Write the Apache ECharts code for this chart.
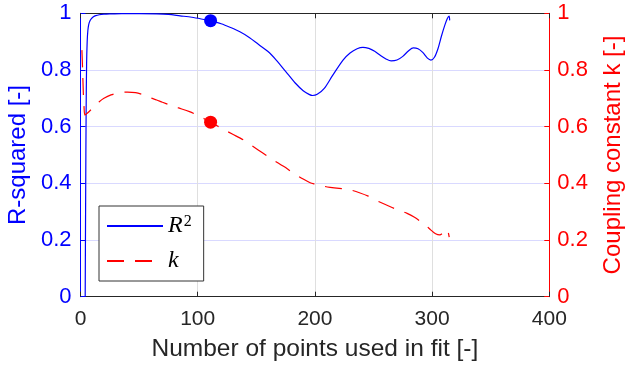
<!DOCTYPE html>
<html>
<head>
<meta charset="utf-8">
<script src="https://cdn.jsdelivr.net/npm/echarts@6.0.0/dist/echarts.min.js"></script>
<style>
html,body{margin:0;padding:0;background:#fff;}
#chart{width:628px;height:370px;}
</style>
</head>
<body>
<div id="chart"></div>
<script>
// Number of points used in fit vs R-squared
var xR = [4, 4.4, 4.8, 5.2, 5.7, 6.3, 7, 8, 9.5, 11, 13, 16, 20, 25, 35, 50, 65, 75, 85, 95, 103, 111, 120, 128, 136, 144, 152, 160, 167, 175, 183, 190, 195, 198, 202, 208, 215, 224, 230, 236, 241, 246, 251, 256, 261, 265, 270, 275, 280, 284, 288, 292, 296, 299, 302, 305, 308, 311, 313, 314.5, 315];
var yR = [0.0, 0.35, 0.65, 0.82, 0.9, 0.94, 0.96, 0.973, 0.982, 0.988, 0.992, 0.995, 0.997, 0.998, 0.999, 0.999, 0.998, 0.996, 0.991, 0.986, 0.98, 0.973, 0.963, 0.95, 0.935, 0.915, 0.89, 0.865, 0.835, 0.795, 0.755, 0.727, 0.714, 0.71, 0.714, 0.735, 0.78, 0.835, 0.86, 0.875, 0.88, 0.876, 0.866, 0.851, 0.838, 0.832, 0.835, 0.848, 0.868, 0.878, 0.875, 0.862, 0.842, 0.835, 0.845, 0.875, 0.92, 0.96, 0.982, 0.99, 0.975];
// Number of points used in fit vs coupling constant k
var xK = [1.2, 1.8, 2.4, 3, 3.8, 6, 9, 12, 16, 20, 26, 33, 40, 47, 53, 59, 65, 70, 76, 83, 93, 100, 111, 120, 129.5, 139, 151.6, 160, 173.6, 182, 190, 196, 200, 205.7, 213, 220.7, 226, 231, 238, 245.5, 254.8, 262, 269.7, 278.7, 285, 291.5, 295, 299, 303, 306.6, 309, 311, 312.5, 313.8, 314.6];
var yK = [0.87, 0.8, 0.72, 0.67, 0.641, 0.648, 0.66, 0.673, 0.688, 0.7, 0.712, 0.72, 0.722, 0.72, 0.713, 0.703, 0.694, 0.686, 0.677, 0.667, 0.653, 0.64, 0.616, 0.595, 0.574, 0.553, 0.518, 0.494, 0.459, 0.435, 0.415, 0.402, 0.397, 0.391, 0.386, 0.382, 0.38, 0.376, 0.367, 0.355, 0.335, 0.322, 0.308, 0.294, 0.28, 0.261, 0.25, 0.235, 0.222, 0.218, 0.225, 0.238, 0.236, 0.226, 0.21];
// Highlighted fit
var markX = [111];
var markR = [0.974];
var markK = [0.616];
var xTicks = [0, 100, 200, 300, 400];
var yTicks = [0, 0.2, 0.4, 0.6, 0.8, 1];

function zip(a, b) { return a.map(function (v, i) { return [v, b[i]]; }); }

var FONT = 'Liberation Sans';
var chart = echarts.init(document.getElementById('chart'), null, {renderer: 'canvas'});
chart.setOption({
  animation: false,
  backgroundColor: '#ffffff',
  grid: {left: 80.5, right: 78.7, top: 13.3, bottom: 73.3, containLabel: false, outerBoundsMode: 'none'},
  legend: {
    orient: 'vertical',
    left: 99, top: 206,
    data: ['R2', 'k'],
    backgroundColor: '#ffffff',
    borderColor: '#333333',
    borderWidth: 1,
    padding: [8, 12, 8, 7],
    itemWidth: 56,
    itemHeight: 14,
    itemGap: 9,
    itemStyle: {opacity: 0},
    formatter: function (n) { return n === 'R2' ? '{i|R}{s|2}' : '{i|k}'; },
    textStyle: {
      rich: {
        i: {fontFamily: 'Liberation Serif', fontStyle: 'italic', fontSize: 24, color: '#000', lineHeight: 24},
        s: {fontFamily: 'Liberation Serif', fontSize: 16, color: '#000', verticalAlign: 'top', lineHeight: 24, padding: [0, 0, 10, 1]}
      }
    }
  },
  xAxis: [{
    type: 'value', position: 'bottom', min: 0, max: 400, interval: 100,
    name: 'Number of points used in fit [-]', nameLocation: 'middle', nameGap: 40,
    nameTextStyle: {fontFamily: FONT, fontSize: 24.5, color: '#262626'},
    axisLine: {show: true, onZero: false, lineStyle: {color: '#262626', width: 1}},
    axisTick: {show: true, inside: true, length: 5, lineStyle: {color: '#262626'}},
    axisLabel: {fontFamily: FONT, fontSize: 21, color: '#262626', margin: 12},
    splitLine: {show: true, lineStyle: {color: '#dfdfdf', width: 1}}
  }, {
    type: 'value', position: 'top', min: 0, max: 400, interval: 100,
    axisLine: {show: true, onZero: false, lineStyle: {color: '#262626', width: 1}},
    axisTick: {show: true, inside: true, length: 5, lineStyle: {color: '#262626'}},
    axisLabel: {show: false},
    splitLine: {show: false}
  }],
  yAxis: [{
    type: 'value', position: 'left', min: 0, max: 1, interval: 0.2,
    name: 'R-squared [-]', nameLocation: 'middle', nameGap: 48, nameRotate: 90,
    nameTextStyle: {fontFamily: FONT, fontSize: 24, color: '#0000ff'},
    axisLine: {show: true, onZero: false, lineStyle: {color: '#0000ff', width: 1}},
    axisTick: {show: true, inside: true, length: 5, lineStyle: {color: '#0000ff'}},
    axisLabel: {fontFamily: FONT, fontSize: 22, color: '#0000ff', margin: 9},
    splitLine: {show: true, lineStyle: {color: '#d9d9ff', width: 1}}
  }, {
    type: 'value', position: 'right', min: 0, max: 1, interval: 0.2,
    name: 'Coupling constant k [-]', nameLocation: 'middle', nameGap: 52, nameRotate: 90,
    nameTextStyle: {fontFamily: FONT, fontSize: 24, color: '#ff0000'},
    axisLine: {show: true, onZero: false, lineStyle: {color: '#ff0000', width: 1}},
    axisTick: {show: true, inside: true, length: 5, lineStyle: {color: '#ff0000'}},
    axisLabel: {fontFamily: FONT, fontSize: 22, color: '#ff0000', margin: 8},
    splitLine: {show: false}
  }],
  series: [{
    name: 'R2', type: 'line', xAxisIndex: 0, yAxisIndex: 0,
    data: zip(xR, yR), symbol: 'none', showSymbol: false, smooth: 0.3,
    lineStyle: {color: '#0000ff', width: 1.2}, itemStyle: {color: '#0000ff'}, z: 3
  }, {
    name: 'k', type: 'line', xAxisIndex: 0, yAxisIndex: 1,
    data: zip(xK, yK), symbol: 'none', showSymbol: false, smooth: 0.3,
    lineStyle: {color: '#ff0000', width: 1.2, type: [17, 11]}, itemStyle: {color: '#ff0000'}, z: 3
  }, {
    name: 'R2mark', type: 'scatter', xAxisIndex: 0, yAxisIndex: 0,
    data: zip(markX, markR), symbolSize: 13, itemStyle: {color: '#0000ff', opacity: 1}, z: 4
  }, {
    name: 'kmark', type: 'scatter', xAxisIndex: 0, yAxisIndex: 1,
    data: zip(markX, markK), symbolSize: 13, itemStyle: {color: '#ff0000', opacity: 1}, z: 4
  }]
});
</script>
</body>
</html>
